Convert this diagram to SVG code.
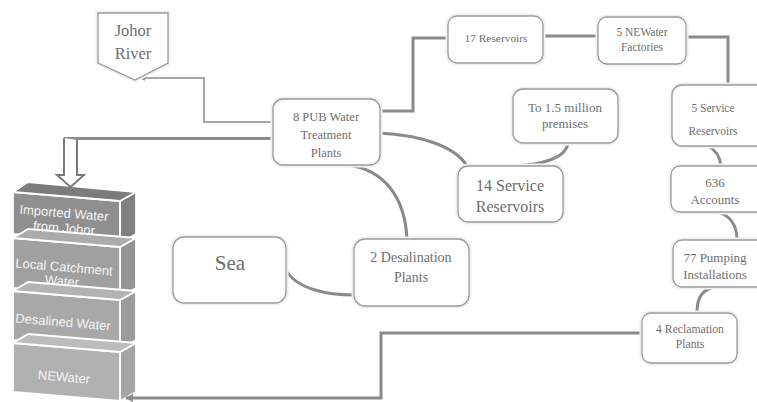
<svg xmlns="http://www.w3.org/2000/svg" width="757" height="402" viewBox="0 0 757 402">
<defs>
<style>
.glow{fill:none;stroke:#f0f0f0;stroke-width:5}
.box{fill:#fff;stroke:#9a9a9a;stroke-width:1.3}
.lbl{font-family:"Liberation Serif",serif;fill:#6e6e6e;text-anchor:middle}
.conn{fill:none;stroke:#8a8a8a;stroke-width:3}
.thin{fill:none;stroke:#8a8a8a;stroke-width:1.5}
.st{font-family:"Liberation Sans",sans-serif;fill:#f4f4f4;font-size:13px;text-anchor:middle}
.edge{stroke:#fff;stroke-width:1.8;stroke-linejoin:round}
</style>
<marker id="ah" viewBox="0 0 10 10" refX="9" refY="5" markerWidth="6" markerHeight="6" orient="auto-start-reverse" markerUnits="userSpaceOnUse">
<path d="M0,0 L10,5 L0,10 z" fill="#8a8a8a"/>
</marker>
<marker id="ah2" viewBox="0 0 10 10" refX="9" refY="5" markerWidth="8" markerHeight="8" orient="auto-start-reverse" markerUnits="userSpaceOnUse">
<path d="M0,0 L10,5 L0,10 z" fill="#8a8a8a"/>
</marker>
</defs>
<rect width="757" height="402" fill="#fff"/>

<g id="stack">
<g id="layer-imported">
<polygon points="120,201 136,192 136,234 120,243" fill="#808080" class="edge"/>
<polygon points="13,192 120,201 120,243 13,234" fill="#8f8f8f" class="edge"/>
<polygon points="13,192 120,201 136,192 28,182" fill="#7b7b7b" class="edge"/>
<text class="st" transform="rotate(4.8 64 213)" x="64" y="217.5">Imported Water</text>
<text class="st" transform="rotate(4.8 64 228)" x="64" y="232.5">from Johor</text>
</g>
<g id="layer-local">
<polygon points="120,247 136,238 136,288 120,297" fill="#949494" class="edge"/>
<polygon points="13,238 120,247 120,297 13,288" fill="#a0a0a0" class="edge"/>
<polygon points="13,238 120,247 136,238 28,229" fill="#ababab" class="edge"/>
<text class="st" transform="rotate(4.8 64 267)" x="64" y="271.5">Local Catchment</text>
<text class="st" transform="rotate(4.8 62 281)" x="62" y="285.5">Water</text>
</g>
<g id="layer-desalined">
<polygon points="120,300 136,291 136,340 120,349" fill="#9c9c9c" class="edge"/>
<polygon points="13,291 120,300 120,349 13,340" fill="#a8a8a8" class="edge"/>
<polygon points="13,291 120,300 136,291 28,282" fill="#b3b3b3" class="edge"/>
<text class="st" transform="rotate(4.8 63 322)" x="63" y="326.5">Desalined Water</text>
</g>
<g id="layer-newater">
<polygon points="120,352 136,343 136,392 120,401" fill="#a5a5a5" class="edge"/>
<polygon points="13,343 120,352 120,401 13,392" fill="#b1b1b1" class="edge"/>
<polygon points="13,343 120,352 136,343 28,334" fill="#bcbcbc" class="edge"/>
<text class="st" transform="rotate(4.8 64 377)" x="64" y="381.5">NEWater</text>
</g>
</g>

<g id="connectors">
<path class="thin" d="M273,122 H204 V78 H140" marker-end="url(#ah)"/>
<path class="conn" d="M275,138.5 H64"/>
<path d="M64,138 V175 H57 L70.5,187 L84,175 H77 V140" fill="#fff" stroke="#7a7a7a" stroke-width="2"/>
<path class="conn" d="M379,111 H413 V38 H448"/>
<path class="conn" d="M543,36 H598"/>
<path class="conn" d="M686,37 H728 V85"/>
<path class="conn" d="M379,133 C420,135 455,146 467,166"/>
<path class="conn" d="M348,165 C385,170 405,198 407,239"/>
<path class="conn" d="M568,143 C566,158 542,165 513,166"/>
<path class="conn" d="M285,268 C295,290 330,295 354,295"/>
<path class="conn" d="M708,146 C716,150 720,156 721,166"/>
<path class="conn" d="M717,212 C730,215 737,225 737,240"/>
<path class="conn" d="M711,288 C700,292 697,300 697,313"/>
<path class="conn" d="M642,333 H381 V398 H126" marker-end="url(#ah2)"/>
</g>

<g id="johor-river">
<polygon class="glow" points="98,13 168,13 168,63 135,80 98,63"/>
<polygon class="box" points="98,13 168,13 168,63 135,80 98,63"/>
<text class="lbl" font-size="16.5" fill="#777" x="133" y="35.5">Johor</text>
<text class="lbl" font-size="16.5" fill="#777" x="133" y="58.5">River</text>
</g>

<g id="pub">
<rect class="glow" x="273" y="99" width="107" height="66" rx="10"/>
<rect class="box" x="273" y="99" width="107" height="66" rx="10"/>
<text class="lbl" font-size="12.5" x="326" y="121">8 PUB Water</text>
<text class="lbl" font-size="12.5" x="326" y="139">Treatment</text>
<text class="lbl" font-size="12.5" x="326" y="157">Plants</text>
</g>

<g id="reservoirs17">
<rect class="glow" x="448" y="16" width="95" height="47" rx="9"/>
<rect class="box" x="448" y="16" width="95" height="47" rx="9"/>
<text class="lbl" font-size="11.4" x="496" y="42">17 Reservoirs</text>
</g>

<g id="newater-factories">
<rect class="glow" x="598" y="17" width="88" height="47" rx="9"/>
<rect class="box" x="598" y="17" width="88" height="47" rx="9"/>
<text class="lbl" font-size="11.5" x="642" y="36">5 NEWater</text>
<text class="lbl" font-size="11.5" x="642" y="51">Factories</text>
</g>

<g id="service5">
<rect class="glow" x="672" y="85" width="95" height="61" rx="10"/>
<rect class="box" x="672" y="85" width="95" height="61" rx="10"/>
<text class="lbl" font-size="11.5" x="713" y="112">5 Service</text>
<text class="lbl" font-size="11.5" x="713" y="135">Reservoirs</text>
</g>

<g id="premises">
<rect class="glow" x="513" y="89" width="105" height="54" rx="10"/>
<rect class="box" x="513" y="89" width="105" height="54" rx="10"/>
<text class="lbl" font-size="13" x="565" y="111.5">To 1.5 million</text>
<text class="lbl" font-size="13" x="565" y="127.5">premises</text>
</g>

<g id="service14">
<rect class="glow" x="458" y="166" width="105" height="56" rx="10"/>
<rect class="box" x="458" y="166" width="105" height="56" rx="10"/>
<text class="lbl" font-size="16" x="510" y="190.5">14 Service</text>
<text class="lbl" font-size="16" x="510" y="211.5">Reservoirs</text>
</g>

<g id="desalination">
<rect class="glow" x="354" y="239" width="115" height="67" rx="11"/>
<rect class="box" x="354" y="239" width="115" height="67" rx="11"/>
<text class="lbl" font-size="14" x="411" y="262">2 Desalination</text>
<text class="lbl" font-size="14" x="411" y="282">Plants</text>
</g>

<g id="sea">
<rect class="glow" x="173" y="237" width="113" height="66" rx="11"/>
<rect class="box" x="173" y="237" width="113" height="66" rx="11"/>
<text class="lbl" font-size="21" x="230" y="270">Sea</text>
</g>

<g id="accounts">
<rect class="glow" x="671" y="166" width="95" height="46" rx="9"/>
<rect class="box" x="671" y="166" width="95" height="46" rx="9"/>
<text class="lbl" font-size="13" x="715" y="186.5">636</text>
<text class="lbl" font-size="13" x="715" y="203.5">Accounts</text>
</g>

<g id="pumping">
<rect class="glow" x="673" y="240" width="95" height="47" rx="9"/>
<rect class="box" x="673" y="240" width="95" height="47" rx="9"/>
<text class="lbl" font-size="13" x="715" y="261.5">77 Pumping</text>
<text class="lbl" font-size="13" x="715" y="278.5">Installations</text>
</g>

<g id="reclamation">
<rect class="glow" x="642" y="313" width="95" height="50" rx="9"/>
<rect class="box" x="642" y="313" width="95" height="50" rx="9"/>
<text class="lbl" font-size="11.7" x="690" y="333">4 Reclamation</text>
<text class="lbl" font-size="11.7" x="690" y="348">Plants</text>
</g>
</svg>
